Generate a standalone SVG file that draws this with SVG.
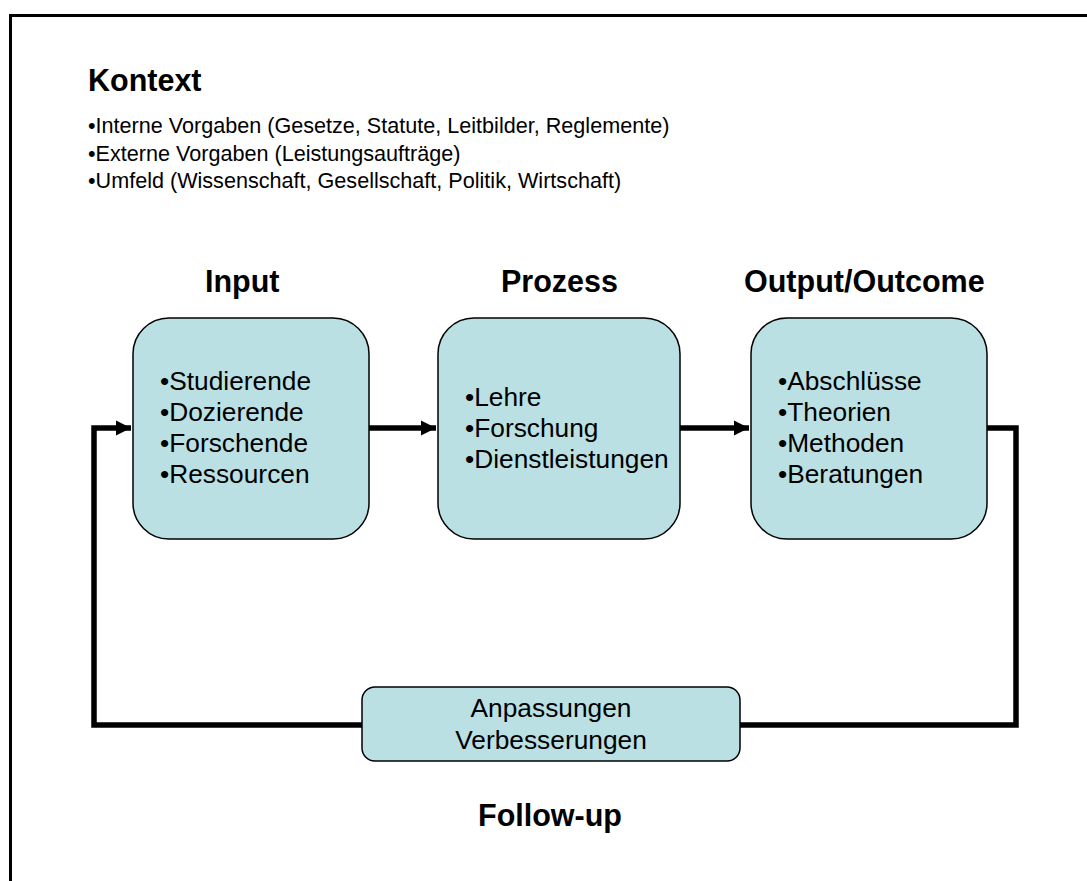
<svg xmlns="http://www.w3.org/2000/svg" width="1087" height="881" viewBox="0 0 1087 881">
<defs>
<style>
.t{font-family:"Liberation Sans",Arial,sans-serif;fill:#000}
.h{font-size:30.5px;font-weight:bold}
.ctx{font-size:21.6px}
.b{font-size:26.3px}
.box{fill:#BAE0E3;stroke:#000;stroke-width:1.5}
.con{fill:none;stroke:#000;stroke-width:5.5}
</style>
<marker id="arr" viewBox="0 0 10 10" refX="10" refY="5" markerWidth="2.8" markerHeight="2.8" markerUnits="strokeWidth" orient="auto">
<path d="M0,0 L10,5 L0,10 z" fill="#000"/>
</marker>
</defs>
<rect width="1087" height="881" fill="#fff"/>
<path d="M10.5,881 V15.5 H1087" fill="none" stroke="#000" stroke-width="3"/>

<g id="kontext">
<text class="t h" x="88" y="91">Kontext</text>
<text class="t ctx" x="88" y="133">•Interne Vorgaben (Gesetze, Statute, Leitbilder, Reglemente)</text>
<text class="t ctx" x="88" y="160.5">•Externe Vorgaben (Leistungsaufträge)</text>
<text class="t ctx" x="88" y="188">•Umfeld (Wissenschaft, Gesellschaft, Politik, Wirtschaft)</text>
</g>

<g id="connectors">
<path class="con" d="M369,428 H436" marker-end="url(#arr)"/>
<path class="con" d="M680,428 H749" marker-end="url(#arr)"/>
<path class="con" d="M987,428 H1016 V725 H94 V428 H131" marker-end="url(#arr)"/>
</g>

<g id="input">
<text class="t h" x="205" y="292">Input</text>
<rect class="box" x="133" y="318" width="236" height="221" rx="36"/>
<text class="t b" x="160" y="390">•Studierende</text>
<text class="t b" x="160" y="421">•Dozierende</text>
<text class="t b" x="160" y="452">•Forschende</text>
<text class="t b" x="160" y="483">•Ressourcen</text>
</g>

<g id="prozess">
<text class="t h" x="501" y="292">Prozess</text>
<rect class="box" x="438" y="318" width="242" height="221" rx="36"/>
<text class="t b" x="465" y="406">•Lehre</text>
<text class="t b" x="465" y="437">•Forschung</text>
<text class="t b" x="465" y="468">•Dienstleistungen</text>
</g>

<g id="output">
<text class="t h" x="744" y="292">Output/Outcome</text>
<rect class="box" x="751" y="318" width="236" height="221" rx="36"/>
<text class="t b" x="778" y="390">•Abschlüsse</text>
<text class="t b" x="778" y="421">•Theorien</text>
<text class="t b" x="778" y="452">•Methoden</text>
<text class="t b" x="778" y="483">•Beratungen</text>
</g>

<g id="followup">
<rect class="box" x="362" y="687" width="378" height="74" rx="13"/>
<text class="t b" x="551" y="717" text-anchor="middle">Anpassungen</text>
<text class="t b" x="551" y="749" text-anchor="middle">Verbesserungen</text>
<text class="t h" x="550" y="826" text-anchor="middle">Follow-up</text>
</g>
</svg>
